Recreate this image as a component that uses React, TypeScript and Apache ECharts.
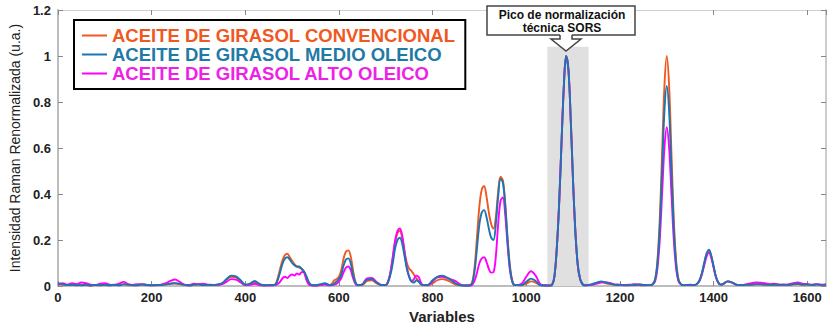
import React, { useEffect, useRef } from "react";
import * as echarts from "echarts";

// x positions (variables)
const variables: number[] = [
  0, 10, 20, 30, 40, 50, 60, 70, 80, 90,
  100, 110, 120, 130, 140, 150, 160, 170, 180, 190,
  200, 210, 220, 230, 240, 250, 260, 270, 280, 290,
  300, 310, 320, 330, 340, 350, 360, 370, 380, 390,
  400, 410, 420, 430, 440, 450,
  460, 465, 470, 475, 480, 485, 490, 495, 500, 505, 510, 515, 520, 525, 530, 535, 540,
  550, 560, 570,
  580, 585, 590, 595, 600, 605, 610, 615, 620, 625, 630, 635, 640,
  650, 660, 670, 680, 690,
  700, 705, 710, 715, 720, 725, 730, 735, 740, 745, 750, 755, 760, 765, 770, 775, 780,
  790, 800, 810, 820, 830, 840, 850, 860, 870,
  880, 885, 890, 895, 900, 905, 910, 915, 920, 925, 930, 935, 940, 945, 950, 955, 960, 965, 970, 975,
  980, 990, 1000, 1010, 1020, 1030, 1040, 1050,
  1055, 1060, 1065, 1070, 1075, 1080, 1085, 1090, 1095, 1100, 1105, 1110, 1115, 1120, 1125,
  1130, 1140, 1150, 1160, 1170, 1180, 1190, 1200, 1210, 1220, 1230, 1240, 1250, 1260,
  1265, 1270, 1275, 1280, 1285, 1290, 1295, 1300, 1305, 1310, 1315, 1320, 1325, 1330, 1335,
  1340, 1350,
  1360, 1365, 1370, 1375, 1380, 1385, 1390, 1395, 1400, 1405, 1410, 1415,
  1420, 1430, 1440, 1450, 1460, 1470, 1480, 1490, 1500, 1510, 1520, 1530, 1540, 1550,
  1560, 1570, 1580, 1590, 1600, 1610, 1620, 1630, 1640,
];

const convencional: number[] = [
  0.010, 0.005, 0.004, 0.006, 0.003, 0.005, 0.004, 0.002, 0.004, 0.003,
  0.006, 0.003, 0.005, 0.004, 0.008, 0.005, 0.003, 0.004, 0.007, 0.004,
  0.003, 0.004, 0.005, 0.006, 0.010, 0.012, 0.008, 0.005, 0.003, 0.005,
  0.006, 0.004, 0.005, 0.004, 0.006, 0.010, 0.028, 0.040, 0.038, 0.020,
  0.005, 0.008, 0.015, 0.006, 0.002, 0.004,
  0.004, 0.010, 0.040, 0.080, 0.115, 0.135, 0.140, 0.125, 0.110, 0.095, 0.085, 0.080, 0.075, 0.060, 0.035, 0.012, 0.004,
  0.002, 0.004, 0.008,
  0.004, 0.010, 0.025, 0.030, 0.040, 0.070, 0.120, 0.150, 0.155, 0.130, 0.070, 0.020, 0.004,
  0.005, 0.022, 0.025, 0.012, 0.004,
  0.004, 0.020, 0.060, 0.120, 0.190, 0.230, 0.240, 0.210, 0.150, 0.100, 0.075, 0.065, 0.050, 0.035, 0.020, 0.008, 0.004,
  0.003, 0.012, 0.025, 0.030, 0.026, 0.016, 0.006, 0.003, 0.002,
  0.004, 0.020, 0.090, 0.220, 0.350, 0.420, 0.435, 0.390, 0.320, 0.270, 0.250, 0.300, 0.410, 0.475, 0.460, 0.360, 0.210, 0.090, 0.025, 0.005,
  0.004, 0.003, 0.010, 0.020, 0.015, 0.003, 0.002, 0.002,
  0.005, 0.040, 0.160, 0.350, 0.610, 0.860, 1.000, 0.940, 0.720, 0.450, 0.230, 0.090, 0.030, 0.008, 0.003,
  0.004, 0.006, 0.012, 0.018, 0.012, 0.008, 0.006, 0.004, 0.005, 0.003, 0.006, 0.004, 0.003, 0.004,
  0.004, 0.008, 0.030, 0.110, 0.290, 0.575, 0.870, 1.000, 0.870, 0.575, 0.290, 0.110, 0.030, 0.008, 0.004,
  0.004, 0.005,
  0.004, 0.010, 0.025, 0.055, 0.100, 0.140, 0.155, 0.130, 0.085, 0.040, 0.015, 0.006,
  0.008, 0.020, 0.015, 0.005, 0.004, 0.006, 0.005, 0.008, 0.006, 0.005, 0.007, 0.004, 0.006, 0.005,
  0.004, 0.006, 0.008, 0.005, 0.006, 0.004, 0.007, 0.005, 0.006,
];

const medioOleico: number[] = [
  0.012, 0.008, 0.004, 0.005, 0.004, 0.003, 0.006, 0.002, 0.005, 0.004,
  0.005, 0.003, 0.006, 0.003, 0.007, 0.006, 0.004, 0.003, 0.008, 0.005,
  0.003, 0.005, 0.004, 0.007, 0.010, 0.012, 0.009, 0.005, 0.002, 0.006,
  0.007, 0.004, 0.005, 0.004, 0.006, 0.012, 0.030, 0.045, 0.042, 0.025,
  0.006, 0.010, 0.022, 0.010, 0.003, 0.005,
  0.004, 0.008, 0.030, 0.065, 0.100, 0.120, 0.125, 0.115, 0.100, 0.090, 0.085, 0.085, 0.075, 0.065, 0.045, 0.020, 0.006,
  0.003, 0.008, 0.012,
  0.004, 0.005, 0.010, 0.020, 0.030, 0.050, 0.090, 0.115, 0.120, 0.100, 0.050, 0.015, 0.004,
  0.006, 0.028, 0.030, 0.015, 0.005,
  0.004, 0.018, 0.050, 0.100, 0.165, 0.200, 0.210, 0.185, 0.130, 0.075, 0.040, 0.020, 0.015, 0.025, 0.020, 0.008, 0.004,
  0.005, 0.025, 0.040, 0.045, 0.038, 0.025, 0.010, 0.003, 0.002,
  0.003, 0.015, 0.070, 0.170, 0.270, 0.320, 0.330, 0.300, 0.250, 0.210, 0.200, 0.270, 0.390, 0.465, 0.450, 0.350, 0.200, 0.080, 0.020, 0.004,
  0.004, 0.004, 0.018, 0.032, 0.022, 0.004, 0.002, 0.002,
  0.005, 0.040, 0.160, 0.350, 0.610, 0.860, 1.000, 0.940, 0.720, 0.450, 0.230, 0.090, 0.030, 0.008, 0.003,
  0.004, 0.008, 0.014, 0.020, 0.015, 0.010, 0.005, 0.006, 0.004, 0.006, 0.004, 0.008, 0.005, 0.004,
  0.004, 0.008, 0.026, 0.096, 0.250, 0.500, 0.760, 0.870, 0.760, 0.500, 0.250, 0.096, 0.026, 0.008, 0.004,
  0.004, 0.006,
  0.004, 0.010, 0.025, 0.055, 0.100, 0.140, 0.158, 0.132, 0.086, 0.040, 0.015, 0.006,
  0.008, 0.020, 0.015, 0.005, 0.005, 0.005, 0.006, 0.007, 0.008, 0.006, 0.005, 0.006, 0.005, 0.007,
  0.005, 0.008, 0.010, 0.006, 0.007, 0.005, 0.006, 0.006, 0.007,
];

const altoOleico: number[] = [
  0.005, 0.012, 0.006, 0.012, 0.008, 0.015, 0.012, 0.006, 0.004, 0.010,
  0.012, 0.006, 0.004, 0.010, 0.018, 0.008, 0.005, 0.008, 0.006, 0.004,
  0.004, 0.003, 0.006, 0.012, 0.022, 0.028, 0.018, 0.006, 0.005, 0.010,
  0.008, 0.010, 0.006, 0.005, 0.004, 0.008, 0.018, 0.030, 0.028, 0.015,
  0.004, 0.005, 0.010, 0.004, 0.003, 0.002,
  0.003, 0.005, 0.010, 0.020, 0.035, 0.040, 0.035, 0.045, 0.050, 0.045, 0.055, 0.050, 0.060, 0.062, 0.030, 0.008, 0.003,
  0.002, 0.004, 0.006,
  0.003, 0.004, 0.006, 0.010, 0.020, 0.035, 0.060, 0.080, 0.085, 0.070, 0.035, 0.010, 0.003,
  0.008, 0.033, 0.035, 0.018, 0.005,
  0.004, 0.020, 0.060, 0.130, 0.200, 0.240, 0.250, 0.220, 0.150, 0.080, 0.040, 0.020, 0.030, 0.045, 0.040, 0.015, 0.004,
  0.004, 0.020, 0.038, 0.040, 0.035, 0.028, 0.020, 0.006, 0.002,
  0.002, 0.006, 0.025, 0.060, 0.100, 0.120, 0.125, 0.105, 0.075, 0.058, 0.060, 0.130, 0.270, 0.370, 0.385, 0.310, 0.180, 0.070, 0.020, 0.004,
  0.004, 0.010, 0.040, 0.064, 0.045, 0.008, 0.003, 0.002,
  0.005, 0.040, 0.160, 0.350, 0.610, 0.860, 1.000, 0.940, 0.720, 0.450, 0.230, 0.090, 0.030, 0.008, 0.003,
  0.003, 0.005, 0.010, 0.015, 0.016, 0.012, 0.006, 0.005, 0.003, 0.004, 0.008, 0.005, 0.004, 0.004,
  0.004, 0.008, 0.020, 0.076, 0.200, 0.400, 0.600, 0.690, 0.600, 0.400, 0.200, 0.076, 0.020, 0.008, 0.004,
  0.004, 0.005,
  0.004, 0.010, 0.022, 0.050, 0.090, 0.128, 0.145, 0.122, 0.080, 0.038, 0.014, 0.006,
  0.008, 0.020, 0.014, 0.005, 0.004, 0.008, 0.012, 0.015, 0.014, 0.012, 0.008, 0.010, 0.006, 0.004,
  0.008, 0.012, 0.015, 0.010, 0.008, 0.006, 0.008, 0.005, 0.006,
];

const seriesNames = [
  "ACEITE DE GIRASOL CONVENCIONAL",
  "ACEITE DE GIRASOL MEDIO OLEICO",
  "ACEITE DE GIRASOL ALTO OLEICO",
];
const normalizationBand = [1045, 1133];
const normalizationBandTop = 1.04;
const annotationText = "Pico de normalización\ntécnica SORS";

const ORANGE = "#F0581F";
const BLUE = "#1A76B2";
const MAGENTA = "#FF00FF";
const FONT = "Liberation Sans, Arial, sans-serif";

export default function App() {
  const ref = useRef<HTMLDivElement>(null);

  useEffect(() => {
    if (!ref.current) return;
    const chart = echarts.init(ref.current, null, { renderer: "svg" });
    const toData = (arr: number[]) => variables.map((x, i) => [x, arr[i]]);

    const lineSeries = (name: string, color: string, arr: number[], extra: any = {}) => ({
      type: "line",
      name,
      data: toData(arr),
      symbol: "none",
      smooth: 0.35,
      lineStyle: { color, width: 1.9 },
      itemStyle: { color },
      ...extra,
    });

    const plainNum = (v: number) => String(Math.round(v * 100) / 100);

    chart.setOption({
      animation: false,
      textStyle: { fontFamily: FONT },
      grid: { left: 57, right: 6, top: 10, bottom: 38, containLabel: false },
      legend: {
        orient: "vertical",
        left: 74,
        top: 20,
        padding: [6, 10, 6, 8],
        itemGap: 0,
        itemWidth: 25,
        itemHeight: 2,
        icon: "rect",
        borderColor: "#000",
        borderWidth: 2,
        backgroundColor: "#fff",
        selectedMode: false,
        textStyle: { fontSize: 18.5, fontWeight: "bold", fontFamily: FONT, lineHeight: 18 },
        data: [
          { name: seriesNames[0], textStyle: { color: ORANGE } },
          { name: seriesNames[1], textStyle: { color: "#1F7AA6" } },
          { name: seriesNames[2], textStyle: { color: "#EE22E6" } },
        ],
      },
      xAxis: [
        {
          type: "value",
          min: 0,
          max: 1640,
          interval: 200,
          position: "bottom",
          name: "Variables",
          nameLocation: "middle",
          nameGap: 23,
          nameTextStyle: { fontSize: 15, fontWeight: "bold", color: "#222", fontFamily: FONT },
          axisLine: { show: true, onZero: false, lineStyle: { color: "#BDBDBD", width: 2 } },
          axisTick: { show: true, inside: true, length: 5, lineStyle: { color: "#888" } },
          axisLabel: { fontSize: 13, fontWeight: "bold", color: "#222", margin: 5, fontFamily: FONT, formatter: plainNum },
          splitLine: { show: false },
        },
        {
          type: "value",
          min: 0,
          max: 1640,
          interval: 200,
          position: "top",
          axisLine: { show: true, onZero: false, lineStyle: { color: "#D0D0D0", width: 1 } },
          axisTick: { show: true, inside: true, length: 5, lineStyle: { color: "#888" } },
          axisLabel: { show: false },
          splitLine: { show: false },
        },
      ],
      yAxis: [
        {
          type: "value",
          min: 0,
          max: 1.2,
          interval: 0.2,
          position: "left",
          name: "Intensidad Raman Renormalizada (u.a.)",
          nameLocation: "middle",
          nameGap: 34,
          nameTextStyle: { fontSize: 14, color: "#222", fontFamily: FONT },
          axisLine: { show: true, onZero: false, lineStyle: { color: "#BDBDBD", width: 2 } },
          axisTick: { show: true, inside: true, length: 5, lineStyle: { color: "#888" } },
          axisLabel: { fontSize: 13, fontWeight: "bold", color: "#222", margin: 7, fontFamily: FONT, formatter: plainNum },
          splitLine: { show: false },
        },
        {
          type: "value",
          min: 0,
          max: 1.2,
          interval: 0.2,
          position: "right",
          axisLine: { show: true, onZero: false, lineStyle: { color: "#BDBDBD", width: 1.5 } },
          axisTick: { show: true, inside: true, length: 5, lineStyle: { color: "#888" } },
          axisLabel: { show: false },
          splitLine: { show: false },
        },
      ],
      series: [
        lineSeries(seriesNames[0], ORANGE, convencional, {
          markArea: {
            silent: true,
            itemStyle: { color: "#E0E0E0" },
            data: [[
              { xAxis: normalizationBand[0], yAxis: 0 },
              { xAxis: normalizationBand[1], yAxis: normalizationBandTop },
            ]],
          },
        }),
        lineSeries(seriesNames[2], MAGENTA, altoOleico),
        lineSeries(seriesNames[1], BLUE, medioOleico),
      ],
      graphic: [
        {
          type: "rect",
          shape: { x: 487, y: 6, width: 148, height: 29 },
          style: { fill: "#fff", stroke: "#444", lineWidth: 1.5 },
          z: 100,
        },
        {
          type: "polygon",
          shape: { points: [[560, 34], [560, 39], [551, 39], [566, 51], [581, 39], [572, 39], [572, 34]] },
          style: { fill: "#fff", stroke: "none" },
          z: 101,
        },
        {
          type: "polyline",
          shape: { points: [[560, 35], [560, 39], [551, 39], [566, 51], [581, 39], [572, 39], [572, 35]] },
          style: { fill: "none", stroke: "#444", lineWidth: 1.5 },
          z: 102,
        },
        {
          type: "text",
          x: 562,
          y: 21,
          style: {
            text: annotationText,
            fontSize: 12,
            fontWeight: "bold",
            fontFamily: FONT,
            fill: "#111",
            align: "center",
            verticalAlign: "middle",
            lineHeight: 13,
          },
          z: 103,
        },
      ],
    });

    return () => chart.dispose();
  }, []);

  return (
    <div
      ref={ref}
      style={{ position: "fixed", left: 0, top: 0, width: 832, height: 329, background: "#fff" }}
    />
  );
}
